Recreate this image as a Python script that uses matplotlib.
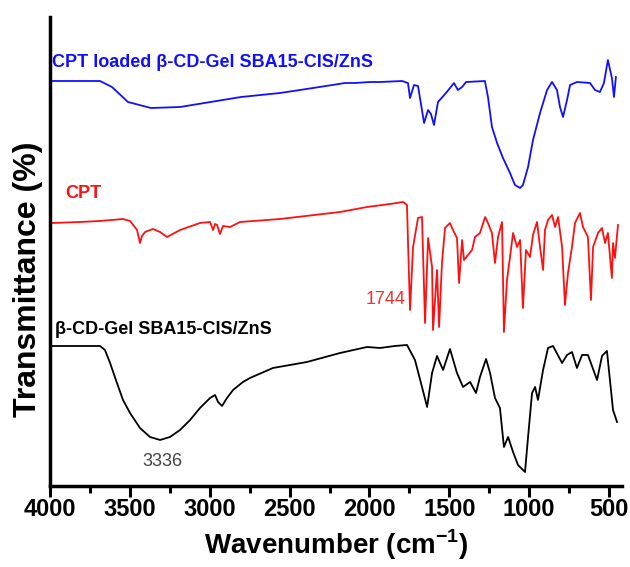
import matplotlib
matplotlib.use("Agg")
import matplotlib.pyplot as plt
from matplotlib.ticker import MultipleLocator

# FTIR spectra (wavenumber in cm-1, transmittance in a.u. with offsets)
blue_wn = [3987, 3687, 3612, 3512, 3368, 3186, 2804, 2560, 2353, 2153, 2090, 1996, 1934,
           1796, 1759, 1746, 1721, 1696, 1658, 1633, 1615, 1596, 1571, 1521, 1471, 1446,
           1420, 1395, 1277, 1258, 1233, 1201, 1164, 1120, 1089, 1057, 1039, 1007, 976,
           932, 888, 857, 826, 807, 788, 763, 744, 701, 619, 588, 557, 532, 507, 482,
           469, 457]
blue_t = [409, 409, 403, 388, 382, 383, 393, 397, 402, 407, 407, 408, 408,
          409, 407, 392, 405, 404, 367, 380, 376, 365, 388, 397, 407, 400,
          403, 408, 409, 393, 363, 347, 332, 317, 305, 302, 305, 323, 350,
          377, 400, 408, 400, 383, 373, 390, 405, 408, 407, 400, 398, 407, 430, 412,
          393, 413]

red_wn = [3987, 3812, 3687, 3543, 3499, 3455, 3437, 3424, 3405, 3355, 3311, 3267, 3186,
          3061, 2998, 2979, 2967, 2954, 2936, 2917, 2873, 2810, 2560, 2184, 2015, 1871,
          1790, 1765, 1759, 1746, 1727, 1696, 1671, 1652, 1633, 1608, 1602, 1577, 1564,
          1546, 1527, 1496, 1477, 1452, 1439, 1420, 1408, 1383, 1358, 1339, 1308, 1276,
          1258, 1233, 1214, 1195, 1170, 1158, 1139, 1120, 1101, 1076, 1057, 1039, 1020,
          995, 976, 951, 932, 913, 901, 882, 857, 838, 819, 794, 776, 757, 732, 713,
          682, 663, 632, 613, 600, 569, 544, 525, 507, 482, 475, 463, 444]
red_t = [267, 268, 269, 271, 269, 260, 247, 254, 258, 261, 258, 253, 260,
         267, 268, 260, 266, 265, 256, 264, 263, 268, 271, 278, 283, 286,
         288, 285, 250, 180, 243, 272, 273, 167, 252, 223, 160, 220, 163,
         227, 262, 267, 260, 252, 207, 250, 230, 235, 240, 253, 257, 273,
         267, 257, 227, 253, 268, 158, 210, 233, 257, 243, 250, 182, 240,
         233, 255, 268, 243, 220, 260, 270, 275, 263, 273, 243, 185, 217, 243, 267,
         277, 263, 253, 190, 243, 257, 262, 247, 257, 212, 247, 232, 265]

black_wn = [3987, 3687, 3656, 3624, 3581, 3543, 3499, 3437, 3374, 3311, 3249, 3186, 3123,
            3061, 2998, 2967, 2948, 2923, 2892, 2854, 2792, 2748, 2604, 2391, 2184, 2015,
            1934, 1840, 1765, 1715, 1671, 1639, 1608, 1577, 1539, 1496, 1452, 1414, 1370,
            1333, 1308, 1270, 1245, 1214, 1183, 1158, 1132, 1101, 1070, 1026, 1007, 982,
            963, 945, 913, 882, 851, 794, 763, 732, 701, 669, 632, 575, 544, 513, 475, 450]
black_t = [144, 144, 140, 127, 107, 90, 77, 62, 53, 50, 53, 60, 70,
           82, 92, 95, 88, 84, 92, 100, 108, 112, 122, 128, 137, 143,
           142, 144, 145, 130, 103, 83, 117, 134, 120, 141, 117, 103, 108,
           97, 113, 131, 117, 92, 82, 43, 53, 38, 25, 18, 53, 97,
           103, 90, 120, 142, 144, 127, 135, 138, 122, 135, 135, 110, 134, 139, 80, 68]

fig = plt.figure(figsize=(6.3, 5.67), dpi=100)
ax = fig.add_axes([0.0794, 0.1429, 0.9076, 0.8271])

ax.plot(blue_wn, blue_t, color="#1010ff", lw=1.3)
ax.plot(red_wn, red_t, color="#ff1010", lw=1.3)
ax.plot(black_wn, black_t, color="black", lw=1.3)

ax.set_xlim(4000, 420)
ax.set_ylim(4, 473)

lab_font = "Liberation Sans"
ax.text(3987, 428, "CPT loaded β-CD-Gel SBA15-CIS/ZnS", color="#1010ff",
        fontsize=13, fontweight="bold", family=lab_font, va="center", ha="left")
ax.text(3906, 296, "CPT", color="#ff1010", fontsize=13, fontweight="bold",
        family=lab_font, va="center", ha="left")
ax.text(3969, 160, "β-CD-Gel SBA15-CIS/ZnS", color="black", fontsize=13,
        fontweight="bold", family=lab_font, va="center", ha="left")
ax.text(1777, 190, "1744", color="#ee3333", fontsize=13, family=lab_font,
        va="center", ha="right")
ax.text(3299, 28, "3336", color="#444444", fontsize=13, family=lab_font,
        va="center", ha="center")

for side in ("top", "right"):
    ax.spines[side].set_visible(False)
for side in ("left", "bottom"):
    ax.spines[side].set_linewidth(2.5)

ax.xaxis.set_major_locator(MultipleLocator(500))
ax.xaxis.set_minor_locator(MultipleLocator(250))
ax.tick_params(axis="x", which="major", length=8, width=2.2, pad=1, labelsize=17)
ax.tick_params(axis="x", which="minor", length=5, width=2.2)
ax.set_yticks([])
for lbl in ax.get_xticklabels():
    lbl.set_fontweight("bold")
    lbl.set_family(lab_font)

ax.set_xlabel("Wavenumber (cm$^{\\mathregular{-1}}$)", fontsize=20, fontweight="bold",
              family=lab_font, labelpad=4)
ax.set_ylabel("Transmittance (%)", fontsize=23, fontweight="bold", family=lab_font)
ax.yaxis.set_label_coords(-0.012, 0.44)

fig.savefig("out.png", dpi=100)
